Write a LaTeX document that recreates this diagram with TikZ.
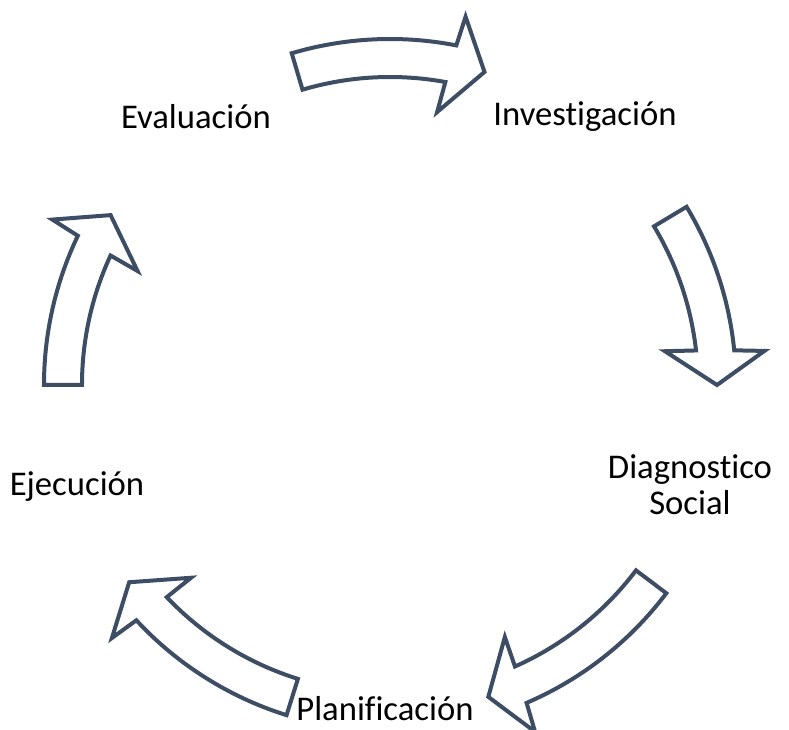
\documentclass[tikz,border=0pt]{standalone}
\usepackage{fontspec}
\setmainfont{Carlito}[Ligatures=NoCommon]
\usepackage{tikz}
\usetikzlibrary{positioning, calc}
\definecolor{slateline}{RGB}{61, 77, 99}

% curved block arrow on the cycle: #1 tail angle, #2 tip angle
\newcommand{\cyclearrow}[2]{%
  \draw[blockarrow] (#1:346) arc[start angle=#1, end angle={#2+5.75}, radius=346]
    -- ({#2+5.2}:376) -- (#2:327) -- ({#2+7}:277) -- ({#2+6.44}:308)
    arc[start angle={#2+6.44}, end angle=#1, radius=308] -- cycle;}

\begin{document}
\begin{tikzpicture}[
    x=0.75pt, y=0.75pt,
    phase/.style={align=center, font=\fontsize{26}{27}\selectfont, text=black},
    blockarrow/.style={draw=slateline, fill=white, line width=3pt, line join=miter}
]
    \useasboundingbox (-390,-345) rectangle (399,385);
    \coordinate (c) at (0,0);

    \node[phase] (invest) at (195,268) {Investigación};
    \node[phase] (diag) at (300,-100) {Diagnostico\\Social};
    \node[phase, inner sep=0pt] (plan) at (-5,-324) {Planificación};
    \node[phase] (ejec) at (-313,-102) {Ejecución};
    \node[phase] (eval) at (-194,268) {Evaluación};

    \cyclearrow{106.5}{73.2}
    \cyclearrow{31}{0}
    \cyclearrow{-37}{-72.5}
    \cyclearrow{-107.4}{-142.9}
    \cyclearrow{180}{148.7}
\end{tikzpicture}
\end{document}
